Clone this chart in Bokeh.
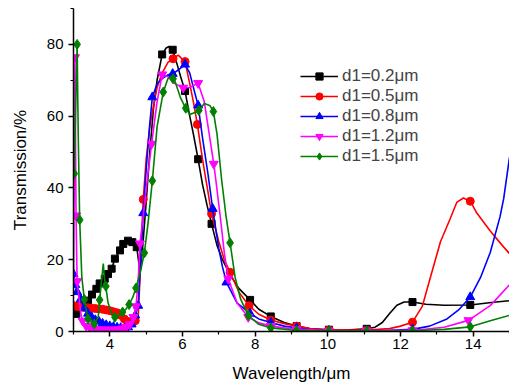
from bokeh.plotting import figure
from bokeh.models import Legend, LegendItem, Range1d, FixedTicker
from bokeh.embed import file_html
from bokeh.resources import INLINE

# ---- data ----
names = ["d1=0.2\u03bcm", "d1=0.5\u03bcm", "d1=0.8\u03bcm", "d1=1.2\u03bcm", "d1=1.5\u03bcm"]
colors = ["#000000", "#ff0000", "#0000ff", "#ff00ff", "#008000"]
markers = ["square", "circle", "triangle", "inverted_triangle", "diamond"]

# curve points
black_x = [3.0, 3.08, 3.24, 3.3, 3.4, 3.51, 3.63, 3.72, 3.86, 3.95, 4.05, 4.14, 4.28, 4.37, 4.5, 4.62, 4.74, 4.8, 4.84, 4.9, 5.0, 5.1, 5.2, 5.3, 5.44, 5.55, 5.63, 5.73, 5.85, 5.95, 6.07, 6.2, 6.3, 6.43, 6.55, 6.68, 6.8, 6.95, 7.1, 7.3, 7.55, 7.86, 8.1, 8.43, 8.8, 9.14, 9.5, 10.03, 10.5, 11.07, 11.3, 11.5, 11.7, 11.9, 12.1, 12.33, 12.7, 13.2, 13.92, 14.5, 15.0]
black_y = [4.5, 4.9, 7.2, 7.8, 8.6, 10.3, 11.9, 13.4, 14.7, 16.0, 17.5, 20.3, 22.6, 24.4, 25.3, 24.9, 23.5, 19.0, 17.0, 23.0, 36.0, 50.0, 62.0, 70.0, 77.2, 79.0, 79.4, 78.5, 74.5, 71.0, 67.0, 60.0, 55.0, 48.0, 41.0, 35.0, 30.0, 24.0, 20.0, 16.0, 12.0, 8.8, 6.2, 4.2, 2.5, 1.5, 0.8, 0.5, 0.4, 0.75, 1.2, 2.5, 5.0, 7.3, 8.2, 8.2, 7.6, 7.3, 7.4, 8.1, 8.6]
red_x = [3.0, 3.1, 3.2, 3.3, 3.4, 3.5, 3.6, 3.7, 3.8, 3.9, 4.0, 4.1, 4.2, 4.3, 4.4, 4.5, 4.6, 4.7, 4.78, 4.83, 4.88, 4.92, 5.0, 5.1, 5.17, 5.3, 5.44, 5.6, 5.74, 5.88, 6.07, 6.2, 6.3, 6.41, 6.55, 6.7, 6.8, 7.0, 7.15, 7.31, 7.55, 7.83, 8.1, 8.43, 8.8, 9.14, 9.5, 10.03, 11.07, 11.7, 12.0, 12.33, 12.6, 12.82, 13.1, 13.37, 13.55, 13.73, 13.92, 14.1, 14.47, 14.8, 15.0]
red_y = [7.2, 7.0, 6.8, 6.7, 6.6, 6.5, 6.4, 6.3, 6.2, 6.0, 5.8, 5.5, 5.2, 4.5, 3.5, 2.8, 2.5, 3.0, 4.0, 15.0, 28.0, 36.8, 48.0, 57.0, 61.0, 68.0, 72.0, 75.0, 76.0, 77.0, 75.2, 69.0, 64.0, 57.7, 48.0, 39.0, 32.8, 25.0, 20.0, 16.5, 11.0, 7.2, 4.8, 3.2, 2.2, 1.5, 0.8, 0.4, 0.4, 0.8, 1.5, 2.6, 7.0, 15.0, 25.0, 31.5, 36.0, 37.2, 36.3, 33.0, 28.0, 24.0, 21.7]
blue_x = [3.0, 3.05, 3.1, 3.2, 3.3, 3.4, 3.5, 3.6, 3.7, 3.8, 3.9, 4.0, 4.1, 4.2, 4.3, 4.4, 4.5, 4.6, 4.7, 4.78, 4.85, 4.92, 5.0, 5.1, 5.17, 5.3, 5.44, 5.6, 5.73, 5.9, 6.07, 6.2, 6.3, 6.43, 6.55, 6.7, 6.83, 7.0, 7.1, 7.21, 7.5, 7.86, 8.1, 8.43, 8.8, 9.14, 9.5, 10.03, 11.07, 11.7, 12.33, 12.8, 13.28, 13.6, 13.92, 14.2, 14.47, 14.74, 14.84, 15.0]
blue_y = [16.0, 13.0, 11.0, 9.0, 6.5, 5.0, 4.0, 3.2, 2.8, 2.2, 1.8, 1.5, 1.3, 1.1, 1.0, 0.9, 1.2, 2.0, 4.5, 7.2, 20.0, 33.0, 45.0, 58.0, 65.3, 69.0, 70.5, 71.5, 71.8, 73.0, 74.4, 72.0, 68.0, 63.0, 54.0, 44.0, 34.2, 23.0, 18.0, 13.7, 8.0, 5.0, 3.5, 2.5, 1.5, 1.0, 0.5, 0.2, 0.2, 0.3, 0.6, 1.5, 3.5, 6.0, 9.6, 15.0, 22.0, 32.0, 37.0, 48.5]
mag_x = [3.0, 3.04, 3.07, 3.1, 3.2, 3.25, 3.35, 3.45, 3.55, 3.65, 3.75, 3.85, 3.95, 4.05, 4.15, 4.25, 4.35, 4.45, 4.55, 4.65, 4.72, 4.78, 4.83, 4.95, 5.05, 5.15, 5.3, 5.44, 5.6, 5.8, 6.02, 6.2, 6.43, 6.6, 6.75, 6.86, 6.92, 7.03, 7.15, 7.26, 7.5, 7.81, 8.1, 8.43, 8.8, 9.14, 10.03, 11.07, 12.33, 13.2, 13.87, 14.47, 15.0]
mag_y = [14.0, 76.4, 32.3, 14.0, 5.0, 3.0, 1.5, 1.0, 0.8, 0.6, 0.5, 0.5, 0.5, 0.5, 0.5, 0.6, 0.8, 1.2, 2.0, 4.0, 7.0, 14.0, 24.5, 35.0, 44.0, 52.3, 64.0, 71.6, 71.0, 69.0, 67.9, 68.0, 69.2, 64.0, 54.0, 46.7, 42.0, 32.8, 22.0, 14.7, 8.0, 4.0, 2.4, 1.5, 1.0, 0.7, 0.2, 0.2, 0.3, 1.2, 3.1, 7.2, 13.0]
green_x = [3.02, 3.1, 3.13, 3.17, 3.23, 3.3, 3.4, 3.57, 3.68, 3.72, 3.8, 3.82, 3.85, 3.89, 3.95, 4.05, 4.14, 4.25, 4.35, 4.45, 4.53, 4.63, 4.72, 4.85, 4.95, 5.05, 5.17, 5.3, 5.47, 5.6, 5.7, 5.8, 5.95, 6.09, 6.2, 6.35, 6.45, 6.6, 6.75, 6.85, 6.95, 7.08, 7.2, 7.31, 7.45, 7.6, 7.81, 8.1, 8.43, 9.14, 10.03, 11.07, 12.33, 13.2, 13.92, 14.47, 15.0]
green_y = [44.0, 80.0, 55.0, 31.1, 15.0, 8.9, 3.5, 2.1, 4.0, 8.8, 17.0, 18.9, 15.0, 12.6, 8.0, 5.0, 4.0, 4.5, 5.4, 6.3, 7.5, 9.5, 12.1, 17.0, 21.9, 30.0, 42.0, 57.0, 66.7, 70.5, 71.0, 69.5, 65.0, 62.2, 60.5, 61.0, 61.6, 63.5, 63.0, 61.3, 55.0, 42.0, 32.0, 24.7, 15.0, 9.0, 4.5, 2.0, 1.0, 0.3, 0.1, 0.1, 0.2, 0.6, 1.3, 3.0, 4.5]

# marker points
black_mx = [3.08, 3.24, 3.4, 3.51, 3.63, 3.72, 3.86, 3.95, 4.05, 4.14, 4.28, 4.37, 4.5, 4.62, 4.74, 5.44, 5.73, 6.07, 6.43, 6.8, 7.86, 8.43, 9.14, 10.03, 11.07, 12.33, 13.92]
black_my = [4.9, 7.2, 8.6, 10.3, 11.9, 13.4, 14.7, 16.0, 17.5, 20.3, 22.6, 24.4, 25.3, 24.9, 23.5, 77.2, 78.5, 67.0, 48.0, 30.0, 8.8, 4.2, 1.5, 0.5, 0.75, 8.2, 7.4]
red_mx = [3.0, 3.1, 3.2, 3.3, 3.4, 3.5, 3.6, 3.7, 3.8, 3.9, 4.0, 4.1, 4.2, 4.3, 4.4, 4.5, 4.6, 4.7, 4.92, 5.74, 6.07, 6.41, 6.8, 7.31, 7.83, 8.43, 9.14, 10.03, 11.07, 12.33, 13.92]
red_my = [7.2, 7.0, 6.8, 6.7, 6.6, 6.5, 6.4, 6.3, 6.2, 6.0, 5.8, 5.5, 5.2, 4.5, 3.5, 2.8, 2.5, 3.0, 36.8, 76.0, 75.2, 57.7, 32.8, 16.5, 7.2, 3.2, 1.5, 0.4, 0.4, 2.6, 36.3]
blue_mx = [3.0, 3.05, 3.1, 3.2, 3.3, 3.4, 3.5, 3.6, 3.7, 3.8, 3.9, 4.0, 4.1, 4.2, 4.3, 4.4, 4.5, 4.6, 4.7, 4.78, 4.92, 5.17, 5.73, 6.07, 6.43, 6.83, 7.21, 7.86, 8.43, 9.14, 10.03, 11.07, 12.33, 13.92]
blue_my = [16.0, 13.0, 11.0, 9.0, 6.5, 5.0, 4.0, 3.2, 2.8, 2.2, 1.8, 1.5, 1.3, 1.1, 1.0, 0.9, 1.2, 2.0, 4.5, 7.2, 33.0, 65.3, 71.8, 74.4, 63.0, 34.2, 13.7, 5.0, 2.5, 1.0, 0.2, 0.2, 0.6, 9.6]
mag_mx = [3.04, 3.07, 3.1, 3.25, 3.35, 3.45, 3.55, 3.65, 3.75, 3.85, 3.95, 4.05, 4.15, 4.25, 4.35, 4.45, 4.55, 4.65, 4.72, 4.83, 5.15, 5.44, 6.02, 6.43, 6.86, 7.26, 7.81, 8.43, 9.14, 10.03, 11.07, 12.33, 13.87]
mag_my = [76.4, 32.3, 14.0, 3.0, 1.5, 1.0, 0.8, 0.6, 0.5, 0.5, 0.5, 0.5, 0.5, 0.6, 0.8, 1.2, 2.0, 4.0, 7.0, 24.5, 52.3, 71.6, 67.9, 69.2, 46.7, 14.7, 4.0, 1.5, 0.7, 0.2, 0.2, 0.3, 3.1]
green_mx = [3.02, 3.1, 3.17, 3.3, 3.4, 3.57, 3.72, 3.89, 4.14, 4.35, 4.53, 4.72, 4.95, 5.17, 5.47, 5.74, 6.09, 6.45, 6.85, 7.31, 7.81, 8.43, 9.14, 10.03, 11.07, 12.33, 13.92]
green_my = [44.0, 80.0, 31.1, 8.9, 3.5, 2.1, 8.8, 12.6, 4.0, 5.4, 7.5, 12.1, 21.9, 42.0, 66.7, 70.4, 62.2, 61.6, 61.3, 24.7, 4.5, 1.0, 0.3, 0.1, 0.1, 0.2, 1.3]

curves = [(black_x, black_y), (red_x, red_y), (blue_x, blue_y), (mag_x, mag_y), (green_x, green_y)]
marks = [(black_mx, black_my), (red_mx, red_my), (blue_mx, blue_my), (mag_mx, mag_my), (green_mx, green_my)]
sizes = [7, 8, 9, 9, 10]

x_major = [4, 6, 8, 10, 12, 14]
y_major = [0, 20, 40, 60, 80]

FONT = "Liberation Sans"

p = figure(width=509, height=387, output_backend="svg", toolbar_location=None,
           x_range=Range1d(3, 15), y_range=Range1d(0, 90),
           min_border_left=73, min_border_right=0, min_border_top=8, min_border_bottom=56)
p.outline_line_color = None
p.xgrid.visible = False
p.ygrid.visible = False
p.background_fill_color = "white"
p.border_fill_color = "white"

items = []
for (cx, cy), (mx, my), col, mk, sz, nm in zip(curves, marks, colors, markers, sizes, names):
    lr = p.line(cx, cy, line_color=col, line_width=1.6)
    sr = p.scatter(mx, my, marker=mk, size=sz, fill_color=col, line_color=col)
    items.append(LegendItem(label=nm, renderers=[lr, sr]))

legend = Legend(items=items, location=(227, 165), padding=0, margin=0, spacing=0,
                glyph_width=38, glyph_height=18, label_height=18, label_standoff=4,
                label_text_font=FONT, label_text_font_size="17px",
                background_fill_alpha=0, border_line_color=None)
p.add_layout(legend, "center")

for ax in (p.xaxis[0], p.yaxis[0]):
    ax.axis_line_width = 1.5
    ax.axis_line_color = "black"
    ax.major_tick_line_color = "black"
    ax.minor_tick_line_color = "black"
    ax.major_tick_line_width = 1.5
    ax.minor_tick_line_width = 1.2
    ax.major_tick_out = 5
    ax.major_tick_in = 0
    ax.minor_tick_out = 3
    ax.minor_tick_in = 0
    ax.major_label_text_font = FONT
    ax.major_label_text_font_size = "15px"
    ax.major_label_text_color = "black"
    ax.axis_label_text_font = FONT
    ax.axis_label_text_font_size = "17px"
    ax.axis_label_text_font_style = "normal"
    ax.axis_label_text_color = "black"

p.xaxis[0].ticker = FixedTicker(ticks=x_major, minor_ticks=[3, 5, 7, 9, 11, 13, 15])
p.yaxis[0].ticker = FixedTicker(ticks=y_major, minor_ticks=[10, 30, 50, 70, 90])
p.xaxis[0].axis_label = "Wavelength/\u03bcm"
p.yaxis[0].axis_label = "Transmission/%"
p.xaxis[0].major_label_standoff = 2
p.xaxis[0].axis_label_standoff = 12
p.yaxis[0].major_label_standoff = 5
p.yaxis[0].axis_label_standoff = 14

open("out.html", "w").write(file_html(p, INLINE))
